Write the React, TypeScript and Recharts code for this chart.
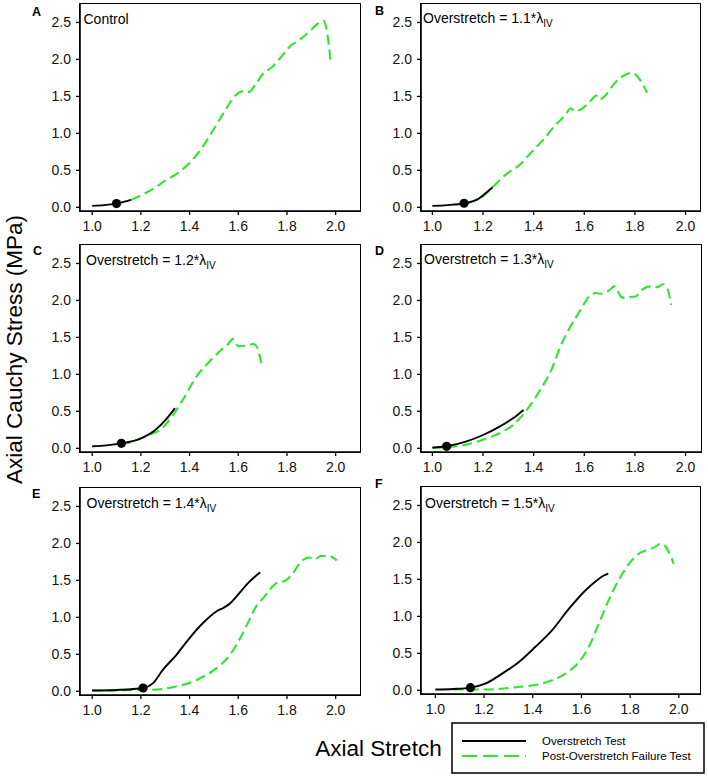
import { ComposedChart, Line, Scatter, XAxis, YAxis } from 'recharts'

type Pt = [number, number]

const xTicks = [1.0, 1.2, 1.4, 1.6, 1.8, 2.0]
const yTicks = [0, 0.5, 1.0, 1.5, 2.0, 2.5]
const panelLetters = ['A', 'B', 'C', 'D', 'E', 'F']
const panelTitles = ['Control', 'Overstretch = 1.1*', 'Overstretch = 1.2*', 'Overstretch = 1.3*', 'Overstretch = 1.4*', 'Overstretch = 1.5*']
const seriesNames = ['Overstretch Test', 'Post-Overstretch Failure Test']
const xTitle = 'Axial Stretch'
const yTitle = 'Axial Cauchy Stress (MPa)'

// [axial stretch, stress MPa]
const testA: Pt[] = [[1.0, 0.02], [1.05, 0.03], [1.1, 0.05], [1.16, 0.1]]
const failA: Pt[] = [
  [1.16, 0.1], [1.2, 0.16], [1.25, 0.25], [1.3, 0.36], [1.35, 0.46], [1.4, 0.6], [1.45, 0.8], [1.5, 1.06],
  [1.55, 1.33], [1.59, 1.52], [1.62, 1.57], [1.645, 1.56], [1.67, 1.66], [1.7, 1.8], [1.74, 1.9], [1.78, 2.05],
  [1.81, 2.17], [1.85, 2.26], [1.89, 2.37], [1.93, 2.49], [1.95, 2.52], [1.96, 2.45], [1.97, 2.25], [1.98, 1.94],
]
const markA: Pt[] = [[1.1, 0.05]]

const testB: Pt[] = [[1.0, 0.02], [1.06, 0.03], [1.125, 0.055], [1.18, 0.11], [1.21, 0.19], [1.238, 0.27]]
const failB: Pt[] = [
  [1.14, 0.06], [1.2, 0.15], [1.24, 0.28], [1.3, 0.47], [1.34, 0.56], [1.39, 0.74], [1.44, 0.92], [1.48, 1.09],
  [1.52, 1.23], [1.548, 1.34], [1.56, 1.3], [1.59, 1.33], [1.625, 1.44], [1.647, 1.51], [1.66, 1.46], [1.68, 1.5],
  [1.72, 1.68], [1.76, 1.79], [1.79, 1.82], [1.81, 1.77], [1.83, 1.67], [1.848, 1.55],
]
const markB: Pt[] = [[1.125, 0.055]]

const testC: Pt[] = [[1.0, 0.027], [1.06, 0.04], [1.12, 0.067], [1.196, 0.126], [1.264, 0.26], [1.306, 0.4], [1.34, 0.544]]
const failC: Pt[] = [
  [1.12, 0.06], [1.154, 0.08], [1.223, 0.17], [1.29, 0.28], [1.33, 0.44], [1.374, 0.665], [1.43, 0.98], [1.484, 1.18],
  [1.526, 1.32], [1.553, 1.39], [1.58, 1.48], [1.6, 1.38], [1.635, 1.39], [1.66, 1.41], [1.677, 1.37], [1.688, 1.25],
  [1.697, 1.12],
]
const markC: Pt[] = [[1.12, 0.067]]

const testD: Pt[] = [[1.0, 0.01], [1.056, 0.027], [1.135, 0.094], [1.2, 0.18], [1.267, 0.297], [1.32, 0.41], [1.36, 0.52]]
const failD: Pt[] = [
  [1.0, 0.005], [1.07, 0.018], [1.135, 0.05], [1.2, 0.117], [1.267, 0.207], [1.32, 0.32], [1.373, 0.52], [1.426, 0.79],
  [1.47, 1.06], [1.506, 1.38], [1.546, 1.65], [1.585, 1.87], [1.618, 2.05], [1.645, 2.1], [1.67, 2.09], [1.7, 2.14],
  [1.718, 2.19], [1.73, 2.14], [1.745, 2.05], [1.765, 2.03], [1.785, 2.05], [1.8, 2.05], [1.83, 2.15], [1.86, 2.19],
  [1.89, 2.18], [1.91, 2.22], [1.93, 2.14], [1.943, 1.94],
]
const markD: Pt[] = [[1.056, 0.027]]

const testE: Pt[] = [
  [1.0, 0.01], [1.1, 0.018], [1.209, 0.045], [1.25, 0.11], [1.29, 0.29], [1.347, 0.497], [1.4, 0.72], [1.457, 0.93],
  [1.51, 1.08], [1.54, 1.13], [1.567, 1.19], [1.6, 1.31], [1.642, 1.47], [1.69, 1.61],
]
const failE: Pt[] = [
  [1.0, 0.01], [1.1, 0.012], [1.2, 0.02], [1.264, 0.023], [1.347, 0.068], [1.4, 0.113], [1.457, 0.2], [1.512, 0.317],
  [1.567, 0.497], [1.608, 0.72], [1.65, 0.995], [1.677, 1.17], [1.705, 1.27], [1.73, 1.38], [1.76, 1.47], [1.79, 1.49],
  [1.82, 1.58], [1.86, 1.76], [1.89, 1.81], [1.917, 1.79], [1.938, 1.83], [1.973, 1.83], [1.993, 1.8], [2.004, 1.77],
]
const markE: Pt[] = [[1.209, 0.045]]

const testF: Pt[] = [
  [1.0, 0.01], [1.075, 0.018], [1.144, 0.036], [1.205, 0.09], [1.274, 0.225], [1.342, 0.38], [1.41, 0.585], [1.479, 0.81],
  [1.548, 1.1], [1.616, 1.35], [1.66, 1.48], [1.69, 1.55], [1.71, 1.58],
]
const failF: Pt[] = [
  [1.075, 0.01], [1.205, 0.01], [1.342, 0.045], [1.425, 0.08], [1.479, 0.135], [1.534, 0.225], [1.589, 0.38], [1.63, 0.585],
  [1.671, 0.9], [1.712, 1.22], [1.753, 1.49], [1.795, 1.71], [1.836, 1.85], [1.863, 1.89], [1.897, 1.93], [1.925, 1.98],
  [1.938, 1.97], [1.959, 1.87], [1.979, 1.71],
]
const markF: Pt[] = [[1.144, 0.036]]

const GREEN = '#2ee62e'
const FONT = '"Liberation Sans", Arial, sans-serif'
const PLOT_W = 280
const PLOT_H = 207

const toRows = (arr: Pt[]) => arr.map(([x, y]) => ({ x, y }))

interface PanelProps {
  left: number
  top: number
  xDomain: [number, number]
  test: Pt[]
  fail: Pt[]
  mark: Pt[]
}

function Panel({ left, top, xDomain, test, fail, mark }: PanelProps) {
  const axisStroke = { stroke: '#000', strokeWidth: 1.6 }
  const tickStyle = { fill: '#111', fontSize: 14, fontFamily: FONT }
  return (
    <>
      <div style={{ position: 'absolute', left: left - 80, top: top - 4 }}>
        <ComposedChart width={80 + PLOT_W + 2} height={4 + PLOT_H + 30} margin={{ top: 4, right: 2, bottom: 0, left: 0 }}>
          <XAxis
            type="number"
            dataKey="x"
            domain={xDomain}
            allowDataOverflow
            ticks={xTicks}
            tickFormatter={(v: number) => v.toFixed(1)}
            height={30}
            axisLine={axisStroke}
            tickLine={{ stroke: '#000', strokeWidth: 1.3 }}
            tickSize={4}
            tickMargin={6}
            tick={tickStyle}
          />
          <YAxis
            type="number"
            dataKey="y"
            domain={[-0.05, 2.75]}
            allowDataOverflow
            ticks={yTicks}
            tickFormatter={(v: number) => v.toFixed(1)}
            width={80}
            axisLine={axisStroke}
            tickLine={{ stroke: '#000', strokeWidth: 1.3 }}
            tickSize={4}
            tickMargin={5}
            tick={tickStyle}
          />
          <Line
            data={toRows(fail)}
            dataKey="y"
            type="monotone"
            stroke={GREEN}
            strokeWidth={2.1}
            strokeDasharray="10 5"
            dot={false}
            isAnimationActive={false}
          />
          <Line
            data={toRows(test)}
            dataKey="y"
            type="monotone"
            stroke="#000"
            strokeWidth={1.9}
            dot={false}
            isAnimationActive={false}
          />
          <Scatter
            data={toRows(mark)}
            dataKey="y"
            fill="#000"
            isAnimationActive={false}
            shape={(p: any) => <circle cx={p.cx} cy={p.cy} r={4.6} fill="#000" />}
          />
        </ComposedChart>
      </div>
      <div
        style={{
          position: 'absolute',
          left: left - 0.8,
          top: top - 0.8,
          width: PLOT_W + 1.6,
          height: PLOT_H + 1.6,
          border: '1.6px solid #000',
          boxSizing: 'border-box',
          pointerEvents: 'none',
        }}
      />
    </>
  )
}

const panels: PanelProps[] = [
  { left: 80, top: 4, xDomain: [0.95, 2.1], test: testA, fail: failA, mark: markA },
  { left: 420.5, top: 4, xDomain: [0.955, 2.061], test: testB, fail: failB, mark: markB },
  { left: 80, top: 245, xDomain: [0.95, 2.1], test: testC, fail: failC, mark: markC },
  { left: 421, top: 245, xDomain: [0.955, 2.061], test: testD, fail: failD, mark: markD },
  { left: 80, top: 488, xDomain: [0.95, 2.1], test: testE, fail: failE, mark: markE },
  { left: 420.5, top: 487, xDomain: [0.941, 2.091], test: testF, fail: failF, mark: markF },
]

const letterPos = [[32, 16], [375, 15], [33, 255], [375, 255], [32, 498], [375, 488]]
const titlePos = [[83.5, 24], [423, 23], [86, 265], [424, 264], [86.5, 508], [425, 508]]

export default function App() {
  return (
    <div style={{ position: 'absolute', left: 0, top: 0, width: 708, height: 777, background: '#fff', fontFamily: FONT }}>
      {panels.map((p, i) => (
        <Panel key={i} {...p} />
      ))}
      <svg width={708} height={777} style={{ position: 'absolute', left: 0, top: 0, pointerEvents: 'none' }}>
        {panelLetters.map((l, i) => (
          <text key={l} x={letterPos[i][0]} y={letterPos[i][1]} fontSize={12.5} fontWeight="bold" fontFamily={FONT} fill="#000">
            {l}
          </text>
        ))}
        {panelTitles.map((t, i) => (
          <text key={t} x={titlePos[i][0]} y={titlePos[i][1]} fontSize={14} fontFamily={FONT} fill="#000">
            {t}
            {i > 0 && (
              <>
                <tspan>λ</tspan>
                <tspan fontSize={10} dy={4}>IV</tspan>
              </>
            )}
          </text>
        ))}
        <text transform="translate(22,349.5) rotate(-90)" textAnchor="middle" fontSize={22.5} fontFamily={FONT} fill="#000">
          {yTitle}
        </text>
        <text x={378.5} y={756} textAnchor="middle" fontSize={22.5} fontFamily={FONT} fill="#000">
          {xTitle}
        </text>
        <rect x={452} y={723} width={252} height={50} fill="#fff" stroke="#000" strokeWidth={1.5} />
        <line x1={462} x2={526} y1={741} y2={741} stroke="#000" strokeWidth={2} />
        <line x1={462} x2={526} y1={756} y2={756} stroke={GREEN} strokeWidth={2.2} strokeDasharray="15 6" />
        <text x={542} y={745} fontSize={11.5} fontFamily={FONT} fill="#000">
          {seriesNames[0]}
        </text>
        <text x={542} y={760} fontSize={11.5} fontFamily={FONT} fill="#000">
          {seriesNames[1]}
        </text>
      </svg>
    </div>
  )
}
